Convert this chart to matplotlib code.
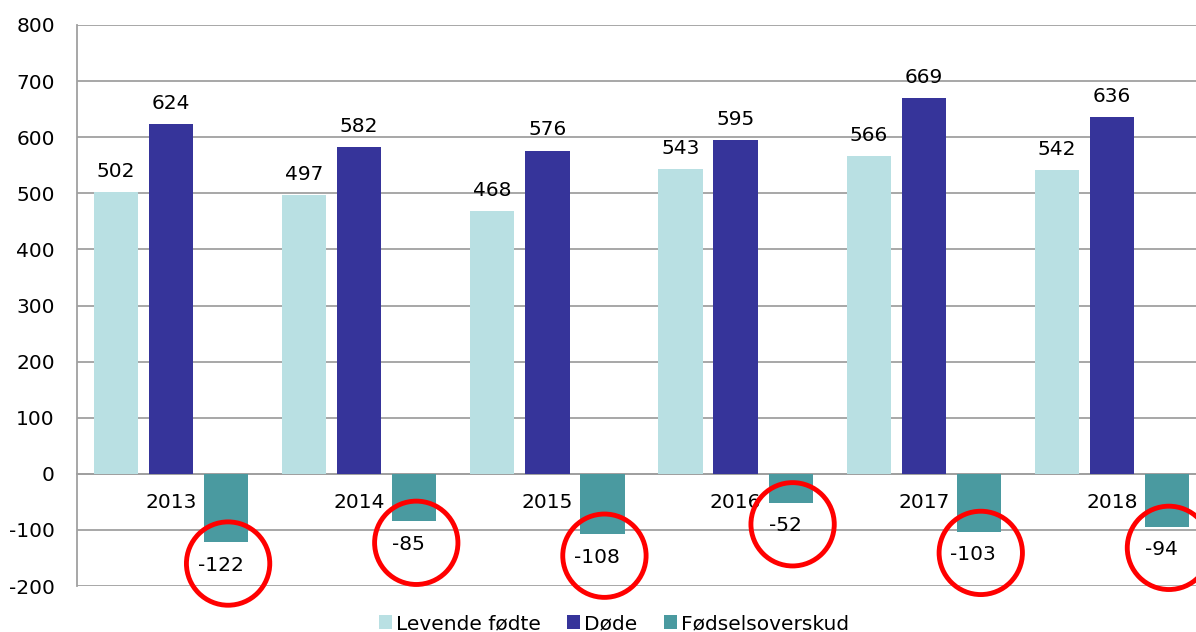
import numpy as np
import matplotlib.pyplot as plt

years = ['2013', '2014', '2015', '2016', '2017', '2018']
levende = [502, 497, 468, 543, 566, 542]
dode = [624, 582, 576, 595, 669, 636]
overskud = [-122, -85, -108, -52, -103, -94]

labels = ['Levende fødte', 'Døde', 'Fødselsoverskud']
colors = ['#B9E0E3', '#36349A', '#4A9AA0']

plt.rcParams['font.family'] = ['DejaVu Sans']
plt.rcParams['axes.unicode_minus'] = False

fig = plt.figure(figsize=(11.96, 6.32), dpi=100)
ax = fig.add_axes([77 / 1196, 46 / 632, 1129 / 1196, 561 / 632])

x = np.arange(len(years))
w = 0.235
off = 0.293
series = [levende, dode, overskud]
for i, (vals, col, lab) in enumerate(zip(series, colors, labels)):
    ax.bar(x + (i - 1) * off, vals, w, color=col, label=lab, zorder=3)

# value labels
for vals, i in zip(series[:2], range(2)):
    for xi, v in zip(x, vals):
        ax.text(xi + (i - 1) * off, v + 20, str(v), ha='center', va='bottom',
                fontsize=14.5, zorder=5)
for xi, v in zip(x, overskud):
    ax.text(xi + off - 0.03, v - 41, str(v), ha='center', va='center',
            fontsize=14.5, zorder=5)

# red circles around the negative values
ax.scatter(x + off + 0.01, np.array(overskud) - 38, s=3600, facecolors='none',
           edgecolors='#FF0000', linewidths=3.5, zorder=6, clip_on=False)

ax.set_ylim(-200, 800)
ax.set_xlim(-0.5, len(years) - 0.5)
ax.set_yticks(range(-200, 801, 100))
ax.yaxis.grid(True, color='#A0A0A0', linewidth=1.3, zorder=0)
ax.set_axisbelow(True)

ax.spines['bottom'].set_position(('data', 0))
ax.spines['bottom'].set_color('#A0A0A0')
ax.spines['bottom'].set_linewidth(1.3)
ax.spines['left'].set_color('#A0A0A0')
ax.spines['left'].set_linewidth(1.3)
ax.spines['top'].set_visible(False)
ax.spines['right'].set_visible(False)

ax.set_xticks(x)
ax.set_xticklabels(years, fontsize=14.5)
ax.tick_params(axis='x', length=0, pad=14)
ax.tick_params(axis='y', length=0, pad=16, labelsize=14.5)

ax.legend(loc='center', bbox_to_anchor=(537 / 1129, -0.067), ncol=3,
          frameon=False, fontsize=14.5, handlelength=0.65, handleheight=0.65,
          handletextpad=0.2, columnspacing=1.3, borderaxespad=0, borderpad=0)

fig.savefig('out.png', dpi=100)
